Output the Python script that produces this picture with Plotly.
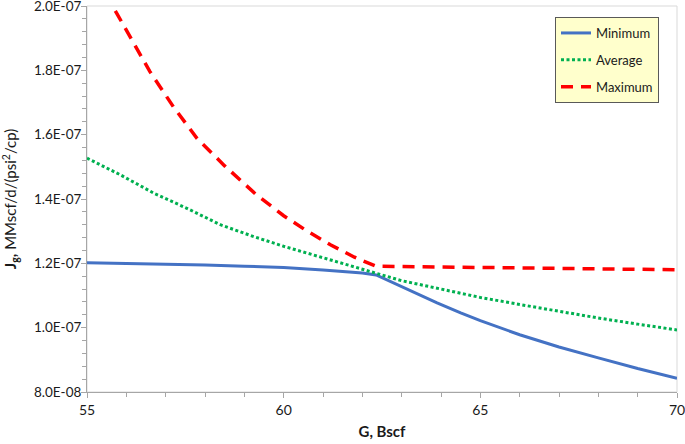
import plotly.graph_objects as go

# ---- data ----
min_g = [55, 56, 57, 58, 59, 60, 61, 62, 62.35, 62.6, 63, 63.5, 63.9, 64.5, 65, 66, 67, 68, 69, 70]
min_jg = [1.202e-7, 1.200e-7, 1.198e-7, 1.195e-7, 1.191e-7, 1.187e-7, 1.179e-7, 1.170e-7, 1.164e-7,
          1.150e-7, 1.127e-7, 1.099e-7, 1.077e-7, 1.046e-7, 1.022e-7, 0.978e-7, 0.940e-7, 0.906e-7,
          0.873e-7, 0.843e-7]

avg_g = [55, 55.85, 56.7, 57.54, 58.39, 59.24, 60, 61, 62, 63, 64, 65, 66, 67, 68, 69, 70]
avg_jg = [1.527e-7, 1.475e-7, 1.418e-7, 1.371e-7, 1.320e-7, 1.283e-7, 1.253e-7, 1.218e-7, 1.181e-7,
          1.146e-7, 1.120e-7, 1.094e-7, 1.072e-7, 1.050e-7, 1.030e-7, 1.011e-7, 0.993e-7]

max_g = [55.72, 56.1, 56.6, 57.2, 57.8, 58.5, 59.3, 60.0, 60.6, 61.2, 61.8, 62.35, 63, 64, 65, 66, 67, 68, 69, 70]
max_jg = [1.985e-7, 1.903e-7, 1.796e-7, 1.686e-7, 1.588e-7, 1.503e-7, 1.414e-7, 1.348e-7, 1.300e-7,
          1.257e-7, 1.219e-7, 1.191e-7, 1.190e-7, 1.189e-7, 1.187e-7, 1.186e-7, 1.184e-7, 1.183e-7,
          1.181e-7, 1.180e-7]

x_ticks = [55, 60, 65, 70]
y_ticks = [8e-8, 1.0e-7, 1.2e-7, 1.4e-7, 1.6e-7, 1.8e-7, 2.0e-7]
y_ticklabels = ["8.0E-08", "1.0E-07", "1.2E-07", "1.4E-07", "1.6E-07", "1.8E-07", "2.0E-07"]

FONT = "Lato"
TXT = "#1a1a1a"
AX = "#A6A6A6"

fig = go.Figure()
fig.add_trace(go.Scatter(x=min_g, y=min_jg, mode="lines", name="Minimum", legendgroup="a",
                         line=dict(color="#4472C4", width=3)))
fig.add_trace(go.Scatter(x=avg_g, y=avg_jg, mode="lines", name="Average", legendgroup="b",
                         line=dict(color="#00B050", width=3, dash="3px,2.5px")))
fig.add_trace(go.Scatter(x=max_g, y=max_jg, mode="lines", name="Maximum", legendgroup="c",
                         line=dict(color="#FF0000", width=3.5, dash="12px,8px")))

fig.update_layout(
    width=685, height=444,
    margin=dict(l=87, r=8, t=6, b=52, autoexpand=False),
    paper_bgcolor="white", plot_bgcolor="white",
    font=dict(family=FONT, size=13, color=TXT),
    showlegend=True,
    legend=dict(x=(555 - 87) / 590, y=(392 - 17) / 386, xanchor="left", yanchor="top",
                bgcolor="#FFFFCC", bordercolor="#595959", borderwidth=1,
                font=dict(family=FONT, size=13, color=TXT),
                tracegroupgap=7, itemwidth=30, entrywidth=82),
    xaxis=dict(range=[55, 70], tickmode="array", tickvals=x_ticks,
               ticktext=[str(v) for v in x_ticks], automargin=False, ticklabeloverflow="allow",
               showgrid=False, zeroline=False, showline=True, linecolor=AX, linewidth=1,
               ticks="outside", ticklen=5, tickcolor=AX,
               minor=dict(dtick=1, tick0=55, ticks="outside", ticklen=4, tickcolor=AX, showgrid=False),
               tickfont=dict(size=14),
               title=dict(text="<b>G, Bscf</b>", font=dict(size=15), standoff=9)),
    yaxis=dict(range=[7.9999e-8, 2.00001e-7], tickmode="array", tickvals=y_ticks, ticktext=y_ticklabels,
               automargin=False, ticklabeloverflow="allow", ticklabelstandoff=-3,
               showgrid=False, zeroline=False, showline=True, linecolor=AX, linewidth=1,
               ticks="outside", ticklen=5, tickcolor=AX,
               minor=dict(dtick=4e-9, tick0=8e-8, ticks="outside", ticklen=4, tickcolor=AX, showgrid=False),
               tickfont=dict(size=13.5),
               title=dict(text="<b>J<sub>g</sub>,</b> MMscf/d/(psi<sup>2</sup>/cp)", font=dict(size=15),
                          standoff=14)),
    shapes=[dict(type="rect", xref="paper", yref="paper", x0=0, x1=1, y0=0, y1=1,
                 line=dict(color="#D9D9D9", width=1), layer="below")],
)

fig.write_html("out.html", config={"displayModeBar": False},
               post_script="document.body.style.margin='0';")
